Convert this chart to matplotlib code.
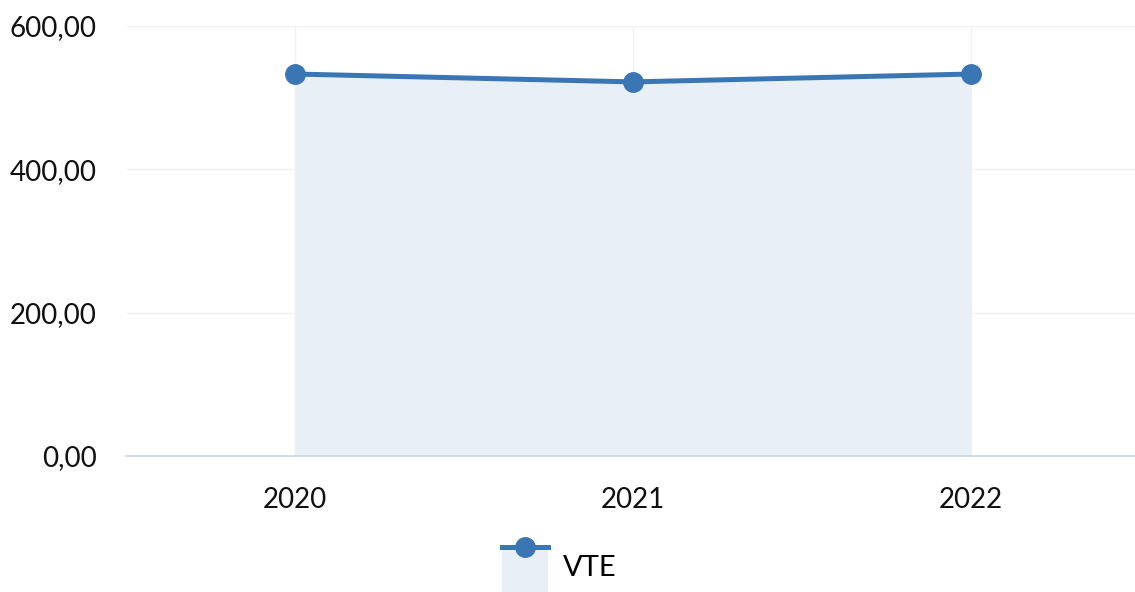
import numpy as np
import matplotlib
matplotlib.use('Agg')
import matplotlib.pyplot as plt
from matplotlib.legend_handler import HandlerBase
from matplotlib.patches import Rectangle
from matplotlib.lines import Line2D
from matplotlib.ticker import FuncFormatter

plt.rcParams['font.family'] = ['Lato', 'DejaVu Sans']

years = ['2020', '2021', '2022']
vte = [533, 522, 533]

line_color = '#3a76b3'
fill_color = '#e8eff7'


class AreaHandler(HandlerBase):
    # legend symbol: filled box with the line + marker along its top edge
    def create_artists(self, legend, orig_handle, xdescent, ydescent,
                       width, height, fontsize, trans):
        top = height + 6
        rect = Rectangle((-xdescent, -ydescent - 14), width, top + 14,
                         facecolor=fill_color, edgecolor='none', transform=trans)
        ln = Line2D([-xdescent, -xdescent + width], [top, top],
                    color=line_color, lw=3.6, transform=trans)
        mk = Line2D([-xdescent + width / 2], [top], marker='o', ms=14,
                    color=line_color, transform=trans)
        return [rect, ln, mk]


fig = plt.figure(figsize=(11.35, 5.92), dpi=100)
ax = fig.add_axes([126 / 1135, 136 / 592, 1014 / 1135, 430 / 592])

x = np.arange(len(years))
ax.fill_between(x, 0, vte, color=fill_color, lw=0, zorder=1)
ax.plot(x, vte, color=line_color, lw=3.6, marker='o', ms=14, zorder=3,
        solid_capstyle='round')

ax.set_xlim(-0.5, 2.5)
ax.set_ylim(0, 600)
ax.set_yticks([0, 200, 400, 600])
ax.yaxis.set_major_formatter(FuncFormatter(lambda v, p: f'{v:.2f}'.replace('.', ',')))
ax.set_xticks(x)
ax.set_xticklabels(years)
ax.tick_params(axis='both', length=0, labelsize=20, colors='#111111')
ax.tick_params(axis='y', pad=21)
ax.tick_params(axis='x', pad=22)

ax.grid(True, color='#f2f2f2', lw=1, zorder=0)
ax.set_axisbelow(True)
for s in ['top', 'right', 'left']:
    ax.spines[s].set_visible(False)
ax.spines['bottom'].set_color('#ccd6e0')
ax.spines['bottom'].set_linewidth(1.2)

fig.legend([object()], ['VTE'], handler_map={object: AreaHandler()},
           loc='center', bbox_to_anchor=(559 / 1135, 1 - 568 / 592),
           frameon=False, fontsize=21, handlelength=1.6, handletextpad=0.5)

fig.savefig('out.png', dpi=100)
